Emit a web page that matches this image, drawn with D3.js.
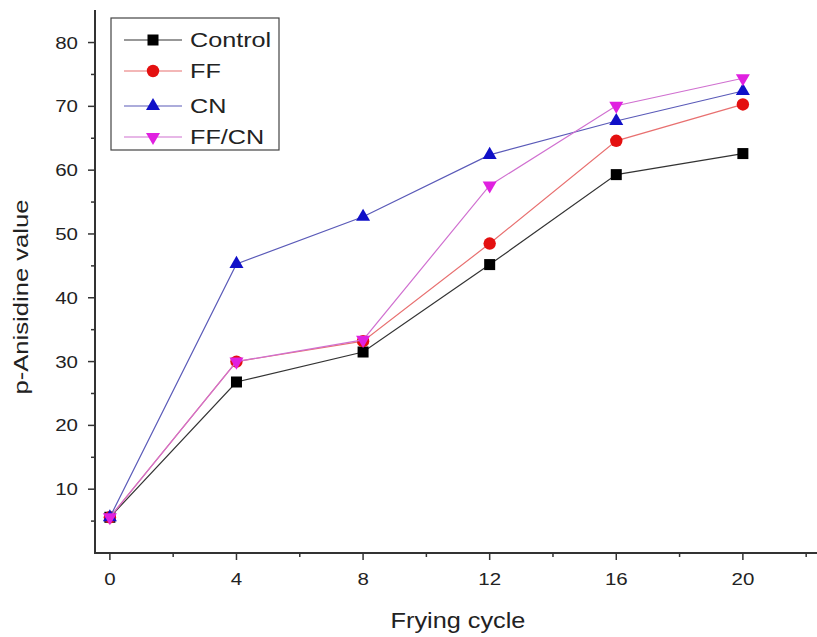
<!DOCTYPE html>
<html>
<head>
<meta charset="utf-8">
<script src="https://cdn.jsdelivr.net/npm/d3@7"></script>
<style>
  html, body { margin: 0; padding: 0; background: #fff; }
  svg { display: block; font-family: "Liberation Sans", Arial, sans-serif; }
</style>
</head>
<body>
<svg id="chart" width="817" height="637"></svg>
<script>
// Frying cycles on the x axis
const cycles = [0, 4, 8, 12, 16, 20];

// p-Anisidine value per treatment
const control = [5.6, 26.8, 31.5, 45.2, 59.3, 62.6];
const ff      = [5.6, 30.0, 33.2, 48.5, 64.6, 70.3];
const cn      = [5.6, 45.3, 52.7, 62.4, 67.7, 72.4];
const ffcn    = [5.6, 30.0, 33.4, 57.6, 70.1, 74.4];

const seriesNames = ["Control", "FF", "CN", "FF/CN"];
const xTickValues = [0, 4, 8, 12, 16, 20];
const yTickValues = [10, 20, 30, 40, 50, 60, 70, 80];

const series = [
  { name: seriesNames[0], values: control, color: "#000000", line: "#333333", shape: "square" },
  { name: seriesNames[1], values: ff,      color: "#e41010", line: "#e87070", shape: "circle" },
  { name: seriesNames[2], values: cn,      color: "#1010c8", line: "#5a5ab8", shape: "up" },
  { name: seriesNames[3], values: ffcn,    color: "#e020e0", line: "#d070d0", shape: "down" }
];

const svg = d3.select("#chart");
const x = d3.scaleLinear().domain([-0.47, 22.5]).range([95, 822]);
const y = d3.scaleLinear().domain([0, 85.1]).range([553, 10]);

const axisColor = "#333";

// horizontally widened text helper
function label(g, px, py, str, size, anchor, stretch) {
  return g.append("g")
    .attr("transform", `translate(${px},${py}) scale(${stretch},1)`)
    .append("text")
    .attr("text-anchor", anchor)
    .attr("font-size", size)
    .attr("fill", "#222")
    .text(str);
}

// Y axis
const gy = svg.append("g");
gy.append("line").attr("x1", 95).attr("x2", 95).attr("y1", y.range()[1]).attr("y2", 554)
  .attr("stroke", axisColor).attr("stroke-width", 2);
d3.range(5, 85, 5).forEach(v => {
  const major = v % 10 === 0;
  gy.append("line").attr("x1", 95).attr("x2", major ? 88 : 91)
    .attr("y1", y(v)).attr("y2", y(v)).attr("stroke", axisColor).attr("stroke-width", 1.5);
});
yTickValues.forEach(v => label(gy, 78, y(v) + 6, String(v), 16, "end", 1.28));

// X axis
const gx = svg.append("g");
gx.append("line").attr("x1", 94).attr("x2", 817).attr("y1", 553).attr("y2", 553)
  .attr("stroke", axisColor).attr("stroke-width", 2);
d3.range(0, 23, 2).forEach(v => {
  const major = v % 4 === 0;
  gx.append("line").attr("x1", x(v)).attr("x2", x(v)).attr("y1", 553).attr("y2", major ? 560 : 557)
    .attr("stroke", axisColor).attr("stroke-width", 1.5);
});
xTickValues.forEach(v => label(gx, x(v), 585, String(v), 16, "middle", 1.28));

// Axis titles
label(svg, 458, 628, "Frying cycle", 22, "middle", 1.15);
svg.append("g").attr("transform", "translate(28,297) rotate(-90) scale(1.22,1)")
  .append("text").attr("text-anchor", "middle").attr("font-size", 21).attr("fill", "#222")
  .text("p-Anisidine value");

// Marker drawing
function marker(g, shape, cx, cy, color) {
  if (shape === "square") {
    g.append("rect").attr("x", cx - 5.5).attr("y", cy - 5.5).attr("width", 11).attr("height", 11).attr("fill", color);
  } else if (shape === "circle") {
    g.append("circle").attr("cx", cx).attr("cy", cy).attr("r", 6.2).attr("fill", color);
  } else {
    const sym = d3.symbol().type(d3.symbolTriangle).size(85);
    g.append("path").attr("d", sym())
      .attr("transform", `translate(${cx},${cy}) rotate(${shape === "down" ? 180 : 0})`)
      .attr("fill", color);
  }
}

// Lines then markers, series by series
const line = d3.line().x((d, i) => x(cycles[i])).y(d => y(d));
series.forEach(s => {
  const g = svg.append("g");
  g.append("path").datum(s.values).attr("d", line)
    .attr("fill", "none").attr("stroke", s.line).attr("stroke-width", 1.2);
  s.values.forEach((v, i) => marker(g, s.shape, x(cycles[i]), y(v), s.color));
});

// Legend
const lg = svg.append("g");
lg.append("rect").attr("x", 111).attr("y", 18).attr("width", 168).attr("height", 132)
  .attr("fill", "#fff").attr("stroke", "#444").attr("stroke-width", 1.2);
const rowY = [40, 71, 106, 137];
series.forEach((s, i) => {
  lg.append("line").attr("x1", 124).attr("x2", 182).attr("y1", rowY[i]).attr("y2", rowY[i])
    .attr("stroke", s.line).attr("stroke-width", 1.2);
  marker(lg, s.shape, 153, rowY[i], s.color);
  label(lg, 190, rowY[i] + 7, s.name, 21, "start", 1.2);
});
</script>
</body>
</html>
